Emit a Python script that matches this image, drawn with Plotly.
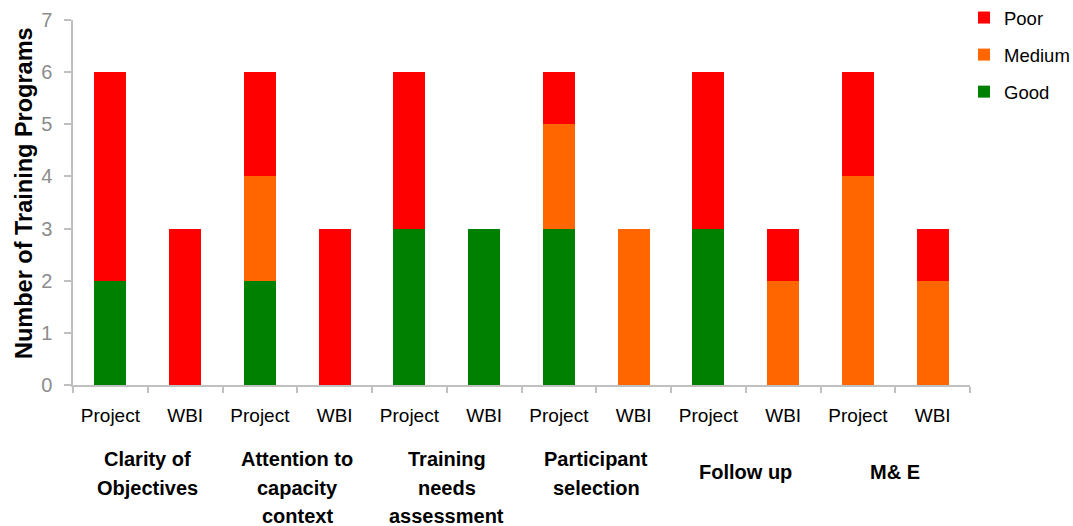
import plotly.graph_objects as go

# Assessment criteria (pairs of bars: Project vs WBI)
criteria = [
    ["Clarity of", "Objectives"],
    ["Attention to", "capacity", "context"],
    ["Training", "needs", "assessment"],
    ["Participant", "selection"],
    ["Follow up"],
    ["M& E"],
]
sources = ["Project", "WBI"]
bar_labels = [s for _ in criteria for s in sources]

# Number of training programs per rating, in bar order
good = [2, 0, 2, 0, 3, 3, 3, 0, 3, 0, 0, 0]
medium = [0, 0, 2, 0, 0, 0, 2, 3, 0, 2, 4, 2]
poor = [4, 3, 2, 3, 3, 0, 1, 0, 3, 1, 2, 1]

x = list(range(len(bar_labels)))
FONT = "Liberation Sans, Arial, sans-serif"

fig = go.Figure()
for rank, (name, vals, color) in enumerate([
    ("Good", good, "#008000"),
    ("Medium", medium, "#FF6600"),
    ("Poor", poor, "#FF0000"),
]):
    fig.add_trace(go.Bar(
        x=x, y=vals, name=name, marker=dict(color=color, line=dict(width=0)),
        legendgroup=name, legendrank=3 - rank,
    ))

# Bold criterion labels under each pair of bars
for i, lines in enumerate(criteria):
    cx = 2 * i + 0.5
    top = 446 if len(lines) > 1 else 459
    for j, line in enumerate(lines):
        fig.add_annotation(
            x=cx, xref="x", y=0, yref="paper", yanchor="top",
            yshift=-(top - 385 + j * 28.5), text=f"<b>{line}</b>",
            showarrow=False, font=dict(family=FONT, size=20, color="#000000"),
        )

# Vertical value-axis title
fig.add_annotation(
    x=0, xref="paper", xshift=-49, xanchor="center",
    y=0.526, yref="paper", yanchor="middle",
    text="<b>Number of Training Programs</b>", textangle=-90,
    showarrow=False, font=dict(family=FONT, size=23.5, color="#000000"),
)

fig.update_layout(
    barmode="stack",
    bargap=0.57,
    width=1073, height=526,
    margin=dict(l=73, r=103, t=20, b=141, autoexpand=False),
    paper_bgcolor="white", plot_bgcolor="white",
    font=dict(family=FONT, color="#000000"),
    showlegend=True,
    legend=dict(
        x=0.9933, y=1.0575, xanchor="left", yanchor="top",
        traceorder="grouped", tracegroupgap=10,
        font=dict(family=FONT, size=18.5, color="#000000"),
        itemwidth=30,
    ),
    xaxis=dict(
        range=[-0.5, 11.5],
        tickmode="array", tickvals=x, ticktext=bar_labels,
        ticks="", showgrid=False, zeroline=False,
        showline=True, linecolor="#C0C0C0", linewidth=1.5,
        tickfont=dict(family=FONT, size=19, color="#000000"),
        ticklabelstandoff=12,
        minor=dict(
            tickmode="array",
            tickvals=[v - 0.5 for v in range(len(bar_labels) + 1)],
            ticks="outside", ticklen=6, tickcolor="#C0C0C0", tickwidth=1.5,
            showgrid=False,
        ),
    ),
    yaxis=dict(
        range=[0, 7], dtick=1, ticks="outside", ticklen=7,
        tickcolor="#C0C0C0", tickwidth=1.5,
        showgrid=False, zeroline=False,
        showline=True, linecolor="#C0C0C0", linewidth=1.5,
        tickfont=dict(family=FONT, size=20, color="#8C8C8C"),
        ticklabelstandoff=8,
    ),
)

fig.write_html("out.html")
